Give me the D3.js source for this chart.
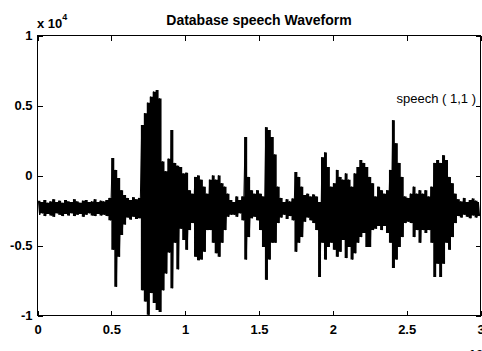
<!DOCTYPE html>
<html>
<head>
<meta charset="utf-8">
<script src="https://cdn.jsdelivr.net/npm/d3@7"></script>
<style>
  body { margin: 0; background: #fff; }
  text { font-family: "Liberation Sans", Arial, sans-serif; fill: #000; }
</style>
</head>
<body>
<div id="chart"></div>
<script>
// speech waveform: one max / min pair per 200 samples
const binSize = 200;
const hiVals = [
  -1800,-1900,-1750,-1950,-1850,-1700,-1900,-1800,-1950,-1750,-1850,-1900,-1700,-1850,-1950,-1800,-1750,-1900,-1850,-1700,-1900,-1800,-1850,-1750,
  -1600,1250,400,-180,-1050,-1400,
  -1600,-1750,-1550,-1700,-1600,
  3600,4450,5200,5630,5990,6100,5500,1000,300,1200,3250,900,700,600,150,200,-1050,-1300,-100,0,-300,-800,-1300,-300,0,-300,0,-550,-800,-1300,
  -1750,-1900,-1500,-1750,-1500,2750,-100,-1050,-1300,-1050,-1300,-1500,3450,3250,2750,1500,-800,
  -1600,-1900,-1700,-1850,-1650,
  250,-100,-800,-1400,-1300,-1500,-1350,-1500,-1900,1300,1650,600,-800,-550,400,-100,-300,150,-300,-800,150,600,1100,900,600,
  -100,-550,-1500,-800,-1050,-1300,-1050,400,3950,2300,900,-100,-1500,-1600,-1300,-800,-1300,-1050,-1300,-1050,-1500,-800,
  900,1100,900,1450,1100,-100,-550,-1300,
  -1700,-1850,-1600,-1900,-1750,-1650,-1800,-1900
];
const loVals = [
  -2800,-2700,-2900,-2750,-2850,-2950,-2700,-2800,-2900,-2750,-2850,-2700,-2900,-2800,-2750,-2950,-2800,-2700,-2850,-2900,-2750,-2850,-2800,-2900,
  -3200,-5300,-7950,-5800,-4250,-3500,
  -3000,-3150,-2950,-3100,-3050,
  -8200,-9000,-9950,-8400,-9100,-9600,-9750,-8200,-7000,-5500,-8050,-4800,-6700,-3800,-4600,-5300,-3900,-3400,-5800,-6050,-6000,-5450,-3900,-3900,-4800,-5550,-5800,-4800,-3900,-2950,
  -2800,-2800,-2950,-2700,-3200,-6000,-4400,-3050,-2950,-3200,-3900,-5100,-7450,-6000,-4800,-4800,-3400,
  -3000,-2800,-3100,-2900,-3200,
  -5450,-4800,-4400,-3300,-3000,-3200,-3400,-3900,-7250,-4800,-6000,-5100,-4800,-5300,-5800,-5450,-4600,-5900,-5100,-6000,-5550,-4800,-4400,-4100,-5100,
  -5100,-3900,-3800,-3600,-3900,-3600,-4100,-4800,-6600,-6000,-5100,-4400,-3400,-3300,-3400,-4400,-3900,-4800,-3900,-4100,-3900,-4800,
  -7250,-6300,-7250,-6300,-4800,-5300,-4400,-3400,
  -2900,-3000,-2800,-2950,-3050,-2850,-3000,-2900
];
const xTicks = [0, 5000, 10000, 15000, 20000, 25000, 30000];
const xTickLabels = ["0", "0.5", "1", "1.5", "2", "2.5", "3"];
const yTicks = [-10000, -5000, 0, 5000, 10000];
const yTickLabels = ["-1", "-0.5", "0", "0.5", "1"];
const chartTitle = "Database speech Waveform";
const legendLabel = "speech ( 1,1 )";

const width = 482, height = 351;
const plotL = 37.5, plotR = 480.5, plotT = 35.5, plotB = 315.5;

const svg = d3.select("#chart").append("svg")
  .attr("width", width)
  .attr("height", height);

const x = d3.scaleLinear().domain([0, 30000]).range([plotL, plotR]);
const y = d3.scaleLinear().domain([-10000, 10000]).range([plotB, plotT]);

const bins = hiVals.map((h, i) => ({ s: i * binSize + binSize / 2, hi: h, lo: loVals[i] }));

// each bin is a solid min..max column, like a dense signal drawn at screen resolution
svg.append("path")
  .datum(bins)
  .attr("fill", "#000")
  .attr("d", d3.area().curve(d3.curveStep).x(d => x(d.s)).y0(d => y(d.lo)).y1(d => y(d.hi)));

// thin trace on top so the peaks end in spikes
const pts = [];
bins.forEach(d => {
  pts.push([d.s - binSize * 0.2, d.hi]);
  pts.push([d.s + binSize * 0.2, d.lo]);
});
svg.append("path")
  .datum(pts)
  .attr("fill", "none")
  .attr("stroke", "#000")
  .attr("stroke-width", 1)
  .attr("d", d3.line().x(d => x(d[0])).y(d => y(d[1])));

// axes, ticks pointing inward on all four sides
const fmtX = d => xTickLabels[xTicks.indexOf(d)];
const fmtY = d => yTickLabels[yTicks.indexOf(d)];

const gx = svg.append("g")
  .attr("transform", `translate(0,${plotB})`)
  .call(d3.axisBottom(x).tickValues(xTicks).tickFormat(fmtX).tickSize(-5).tickPadding(9));
const gy = svg.append("g")
  .attr("transform", `translate(${plotL},0)`)
  .call(d3.axisLeft(y).tickValues(yTicks).tickFormat(fmtY).tickSize(-5).tickPadding(5));
const gt = svg.append("g")
  .attr("transform", `translate(0,${plotT})`)
  .call(d3.axisTop(x).tickValues(xTicks).tickFormat("").tickSize(-5));
const gr = svg.append("g")
  .attr("transform", `translate(${plotR},0)`)
  .call(d3.axisRight(y).tickValues(yTicks).tickFormat("").tickSize(-5));

[gx, gy, gt, gr].forEach(g => {
  g.select(".domain").remove();
  g.selectAll("line").attr("stroke", "#000").attr("shape-rendering", "crispEdges");
  g.selectAll("text")
    .style("font-family", '"Liberation Sans", Arial, sans-serif')
    .style("font-size", "13px")
    .style("font-weight", "bold")
    .attr("fill", "#000");
});

svg.append("rect")
  .attr("x", plotL).attr("y", plotT)
  .attr("width", plotR - plotL).attr("height", plotB - plotT)
  .attr("fill", "none")
  .attr("stroke", "#000")
  .attr("shape-rendering", "crispEdges");

// title
svg.append("text")
  .attr("x", (plotL + plotR) / 2)
  .attr("y", 25)
  .attr("text-anchor", "middle")
  .style("font-size", "14px")
  .style("font-weight", "bold")
  .text(chartTitle);

// exponent labels
const expY = svg.append("text")
  .attr("x", 37).attr("y", 28)
  .style("font-size", "13px").style("font-weight", "bold");
expY.append("tspan").text("x 10");
expY.append("tspan").attr("dy", -8).style("font-size", "9px").text("4");

const expX = svg.append("text")
  .attr("x", 458).attr("y", 359)
  .style("font-size", "13px").style("font-weight", "bold");
expX.append("tspan").text("x 10");
expX.append("tspan").attr("dy", -8).style("font-size", "9px").text("4");

// legend text
svg.append("text")
  .attr("x", 476).attr("y", 103)
  .attr("text-anchor", "end")
  .style("font-size", "13px")
  .text(legendLabel);
</script>
</body>
</html>
